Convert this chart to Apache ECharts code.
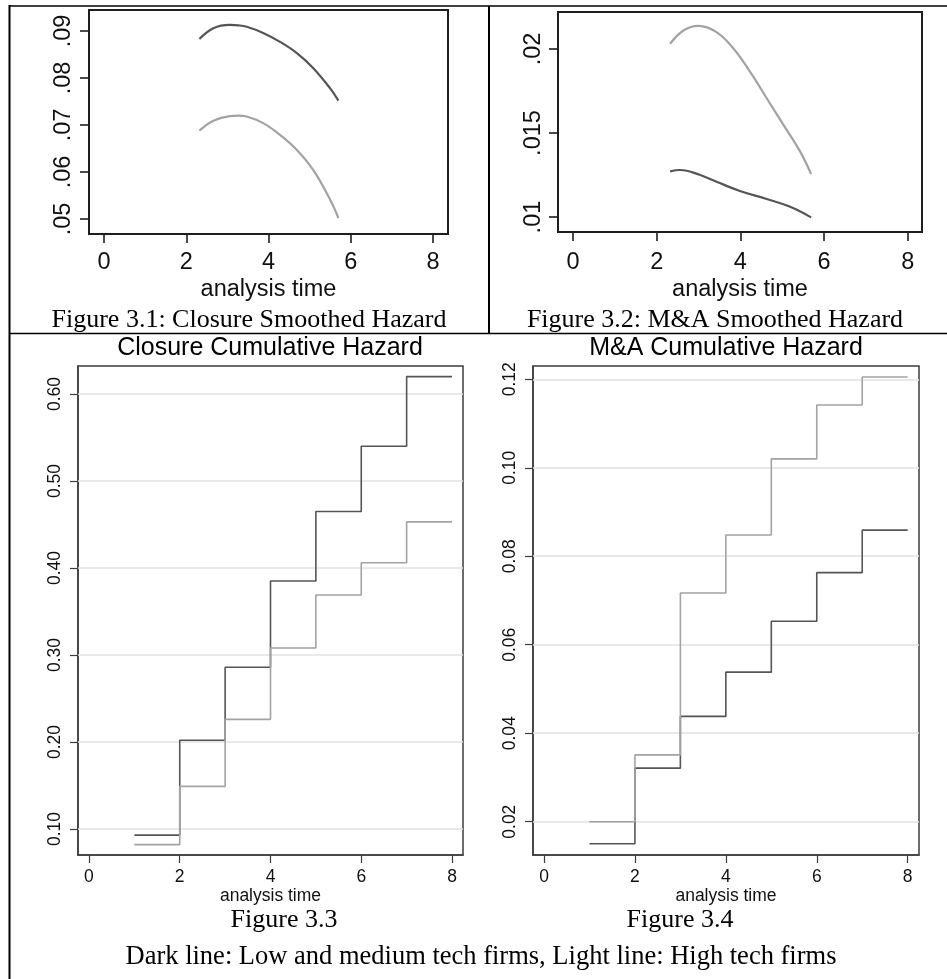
<!DOCTYPE html>
<html><head><meta charset="utf-8">
<script src="https://cdn.jsdelivr.net/npm/echarts@6/dist/echarts.min.js"></script>
<style>html,body{margin:0;padding:0;background:#fff}#c{width:947px;height:979px}</style>
</head><body><div id="c"></div>
<script>
// ---------- data ----------
const xTickValues = [0, 2, 4, 6, 8];

// Figure 3.1: Closure smoothed hazard
const closureSmoothT     = [2.32, 2.66, 3.06, 3.27, 3.47, 3.87, 4.28, 4.69, 5.09, 5.50, 5.70];
const closureSmoothDark  = [0.0883, 0.0906, 0.0913, 0.0912, 0.0909, 0.0896, 0.0877, 0.0853, 0.0821, 0.0778, 0.0752];
const closureSmoothLight = [0.0688, 0.0709, 0.0719, 0.0720, 0.0718, 0.0704, 0.0679, 0.0647, 0.0604, 0.0541, 0.0502];
const closureSmoothYTicks = [0.05, 0.06, 0.07, 0.08, 0.09];

// Figure 3.2: M&A smoothed hazard
const maSmoothLightT = [2.32, 2.64, 3.00, 3.43, 3.83, 4.23, 4.63, 5.03, 5.43, 5.69];
const maSmoothLight  = [0.02030, 0.02110, 0.02137, 0.02100, 0.02004, 0.01865, 0.01707, 0.01548, 0.01389, 0.01256];
const maSmoothDarkT  = [2.32, 2.56, 3.04, 3.43, 3.99, 4.63, 5.19, 5.69];
const maSmoothDark   = [0.01272, 0.01280, 0.01250, 0.01210, 0.01155, 0.01107, 0.01061, 0.00998];
const maSmoothYTicks = [0.01, 0.015, 0.02];

// Figure 3.3 / 3.4: cumulative hazard (step functions)
const cumTimes = [1, 2, 3, 4, 5, 6, 7, 8];
const closureCumDark  = [0.093, 0.202, 0.286, 0.385, 0.465, 0.540, 0.620, 0.620];
const closureCumLight = [0.082, 0.149, 0.226, 0.308, 0.369, 0.406, 0.453, 0.453];
const closureCumYTicks = [0.10, 0.20, 0.30, 0.40, 0.50, 0.60];
const maCumDark  = [0.0150, 0.0321, 0.0438, 0.0538, 0.0653, 0.0763, 0.0859, 0.0859];
const maCumLight = [0.0200, 0.0351, 0.0717, 0.0848, 0.1020, 0.1142, 0.1205, 0.1205];
const maCumYTicks = [0.02, 0.04, 0.06, 0.08, 0.10, 0.12];

// ---------- styling ----------
const SANS = '"Liberation Sans", Arial, Helvetica, sans-serif';
const SERIF = '"Liberation Serif", "Times New Roman", Times, serif';
const DARK = '#555555';
const LIGHT = '#a3a3a3';
const zip = (xs, ys) => xs.map((x, i) => [x, ys[i]]);
const noLead = v => String(v).replace(/^0/, '');
const fix2 = v => v.toFixed(2);

const panels = [
  { grid: {left: 89, top: 10, width: 359, height: 224}, x: [-0.365, 8.365], y: [0.04681, 0.09447],
    yTicks: closureSmoothYTicks, fmt: noLead, fs: 23.5, box: '#1e1e1e', bw: 2,
    xMargin: 17, yMargin: 13, tick: 9, nameGap: 44 },
  { grid: {left: 558, top: 12, width: 364, height: 220}, x: [-0.358, 8.341], y: [0.00911, 0.02220],
    yTicks: maSmoothYTicks, fmt: noLead, fs: 23.5, box: '#1e1e1e', bw: 2,
    xMargin: 19, yMargin: 12, tick: 9, nameGap: 46 },
  { grid: {left: 78, top: 366, width: 385, height: 489}, x: [-0.242, 8.242], y: [0.0701, 0.6322],
    yTicks: closureCumYTicks, fmt: fix2, fs: 17.5, box: '#3c3c3c', bw: 1.5,
    xMargin: 13, yMargin: 14, tick: 8, nameGap: 31 },
  { grid: {left: 533, top: 366, width: 386, height: 489}, x: [-0.242, 8.249], y: [0.01247, 0.1230],
    yTicks: maCumYTicks, fmt: fix2, fs: 17.5, box: '#3c3c3c', bw: 1.5,
    xMargin: 13, yMargin: 14, tick: 8, nameGap: 31 }
];

const grid = panels.map(p => Object.assign({
  show: true, borderColor: p.box, borderWidth: p.bw, backgroundColor: 'transparent',
  containLabel: false, outerBoundsMode: 'none'
}, p.grid));

const xAxis = panels.map((p, i) => ({
  gridIndex: i, type: 'value', min: p.x[0], max: p.x[1],
  axisLine: {show: true, onZero: false, lineStyle: {color: p.box, width: p.bw}},
  axisTick: {show: true, inside: false, length: p.tick, customValues: xTickValues,
             lineStyle: {color: p.box, width: p.bw * 0.8}},
  axisLabel: {show: true, customValues: xTickValues, margin: p.xMargin, fontSize: p.fs,
              fontFamily: SANS, color: '#111'},
  splitLine: {show: false},
  name: 'analysis time', nameLocation: 'middle', nameGap: p.nameGap,
  nameTextStyle: {fontSize: p.fs, fontFamily: SANS, color: '#111'}
}));

const yAxis = panels.map((p, i) => ({
  gridIndex: i, type: 'value', min: p.y[0], max: p.y[1],
  axisLine: {show: true, onZero: false, lineStyle: {color: p.box, width: p.bw}},
  axisTick: {show: true, inside: false, length: p.tick, customValues: p.yTicks,
             lineStyle: {color: p.box, width: p.bw * 0.8}},
  axisLabel: {show: true, customValues: p.yTicks, formatter: p.fmt, rotate: 90, margin: p.yMargin,
              fontSize: p.fs, fontFamily: SANS, color: '#111'},
  splitLine: {show: false}
}));

const gridLines = vals => ({
  silent: true, symbol: 'none', z: 1, animation: false,
  label: {show: false},
  lineStyle: {color: '#e2e2e2', width: 1.5, type: 'solid'},
  emphasis: {disabled: true},
  data: vals.map(v => ({yAxis: v}))
});

const smoothSeries = (i, t, vals, color) => ({
  type: 'line', xAxisIndex: i, yAxisIndex: i, data: zip(t, vals), smooth: 0.4,
  showSymbol: false, symbol: 'none', lineStyle: {color, width: 2.2}, z: 3, silent: true
});
const stepSeries = (i, vals, color, z, extra) => Object.assign({
  type: 'line', xAxisIndex: i, yAxisIndex: i, data: zip(cumTimes, vals), step: 'end',
  showSymbol: false, symbol: 'none', lineStyle: {color, width: 1.6}, z, silent: true
}, extra || {});

const series = [
  smoothSeries(0, closureSmoothT, closureSmoothDark, DARK),
  smoothSeries(0, closureSmoothT, closureSmoothLight, LIGHT),
  smoothSeries(1, maSmoothLightT, maSmoothLight, LIGHT),
  smoothSeries(1, maSmoothDarkT, maSmoothDark, DARK),
  stepSeries(2, closureCumDark, DARK, 3, {markLine: gridLines(closureCumYTicks)}),
  stepSeries(2, closureCumLight, LIGHT, 4),
  stepSeries(3, maCumDark, DARK, 3, {markLine: gridLines(maCumYTicks)}),
  stepSeries(3, maCumLight, LIGHT, 4)
];

const txt = (text, x, y, font) => ({
  type: 'text', x, y, silent: true,
  style: {text, font, fill: '#000', align: 'center', verticalAlign: 'middle'}
});

const graphic = [
  {type: 'line', silent: true, shape: {x1: 9, y1: 6, x2: 947, y2: 6}, style: {stroke: '#000', lineWidth: 1.5}},
  {type: 'line', silent: true, shape: {x1: 9.5, y1: 5, x2: 9.5, y2: 979}, style: {stroke: '#000', lineWidth: 2}},
  {type: 'line', silent: true, shape: {x1: 489, y1: 6, x2: 489, y2: 333}, style: {stroke: '#000', lineWidth: 2}},
  {type: 'line', silent: true, shape: {x1: 9, y1: 333.5, x2: 947, y2: 333.5}, style: {stroke: '#000', lineWidth: 1.5}},
  txt('Figure 3.1: Closure Smoothed Hazard', 249, 320, '26px ' + SERIF),
  txt('Figure 3.2: M&A Smoothed Hazard', 715, 320, '26px ' + SERIF),
  txt('Closure Cumulative Hazard', 270, 348, '25px ' + SANS),
  txt('M&A Cumulative Hazard', 726, 348, '25px ' + SANS),
  txt('Figure 3.3', 284, 920, '26px ' + SERIF),
  txt('Figure 3.4', 680, 920, '26px ' + SERIF),
  txt('Dark line: Low and medium tech firms, Light line: High tech firms', 481, 957, '26.5px ' + SERIF)
];

const chart = echarts.init(document.getElementById('c'), null, {renderer: 'canvas'});
chart.setOption({
  animation: false,
  backgroundColor: '#fff',
  grid, xAxis, yAxis, series, graphic
});
</script>
</body></html>
